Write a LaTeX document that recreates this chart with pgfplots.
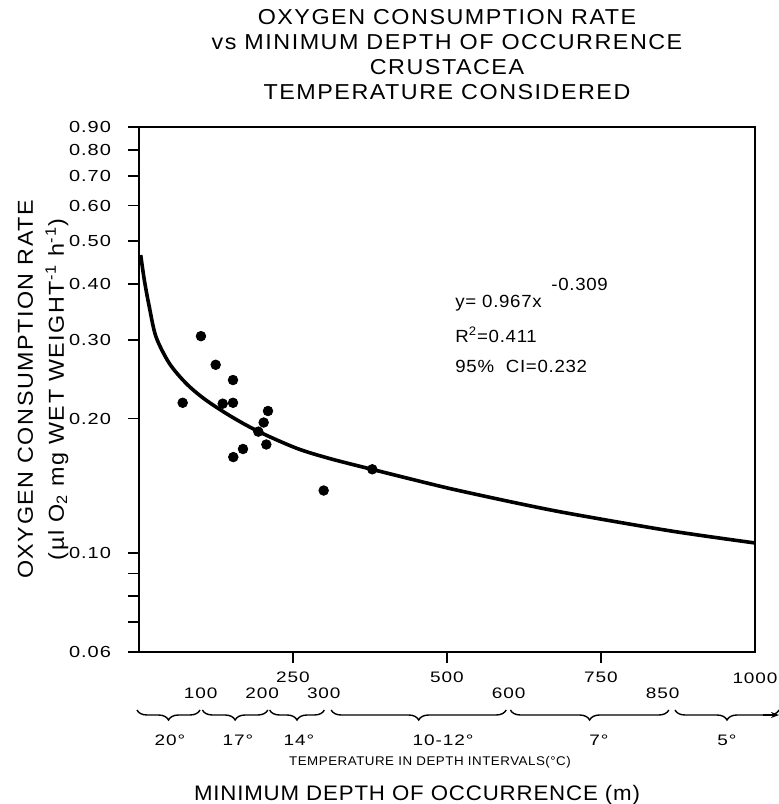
\documentclass[border=0pt]{standalone}
\usepackage{fontspec}
\setmainfont{Liberation Sans}
\newfontfamily\wf[FakeStretch=1.06,LetterSpace=4]{Liberation Sans}
\newfontfamily\hf[FakeStretch=1.08,LetterSpace=7]{Liberation Sans}
\newfontfamily\tf[FakeStretch=1.25,LetterSpace=6]{Liberation Sans}
\usepackage{pgfplots}
\pgfplotsset{compat=1.18}
\usetikzlibrary{decorations.pathreplacing,arrows.meta}

\newcommand\tickfont{\tf\fontsize{7.6}{9}\selectfont}
\newcommand\bigfont{\wf\fontsize{10.5}{12.5}\selectfont}
\newcommand\headfont{\hf\fontsize{10.8}{12.5}\selectfont}

\begin{document}
\begin{tikzpicture}
\path[use as bounding box] (-69.5pt,-76pt) rectangle (320pt,326pt);
\begin{axis}[
    at={(0pt,0pt)}, anchor=south west,
    scale only axis, width=308pt, height=262.5pt,
    xmin=0, xmax=1000,
    ymode=log, ymin=0.06, ymax=0.9,
    axis line style={line width=1pt},
    tick style={line width=0.8pt, black},
    tick align=outside,
    major tick length=5.5pt, minor tick length=5.5pt,
    xtick pos=bottom, ytick pos=left,
    xtick={250,500,750},
    xticklabels={250,500,750},
    extra x ticks={100,200,300,600,850},
    extra x tick labels={100,200,300,600,850},
    extra x tick style={major tick length=0pt, xticklabel style={yshift=-13pt}},
    ytick={0.06,0.1,0.2,0.3,0.4,0.5,0.6,0.7,0.8,0.9},
    yticklabels={0.06,0.10,0.20,0.30,0.40,0.50,0.60,0.70,0.80,0.90},
    minor ytick={0.07,0.08,0.09},
    tick label style={font=\tickfont},
    xticklabel style={anchor=base, yshift=-10pt},
    yticklabel style={anchor=east, xshift=-5pt, font=\tf\fontsize{8}{9}\selectfont},
]
% fitted power curve
\addplot[black, line width=1.8pt, smooth, tension=0.5] coordinates {
    (2.8,0.465) (8.6,0.409) (16.7,0.356) (27.6,0.305) (49.2,0.266)
    (76.3,0.240) (106,0.2214) (147.7,0.2029) (193.7,0.1872) (256,0.1716)
    (310.1,0.1627) (378.7,0.1539) (472.4,0.1429) (521.1,0.1378) (618.5,0.1289)
    (699.7,0.1225) (862,0.1121) (1000,0.1053)
};
% measured species
\addplot[only marks, mark=*, mark size=2.4pt, black] coordinates {
    (70.9,0.217) (100.6,0.306) (124.5,0.264) (152.6,0.244) (135.9,0.216)
    (152.6,0.217) (209.4,0.208) (202.4,0.196) (193.7,0.187) (206.7,0.175)
    (168.8,0.171) (153.1,0.164) (378.7,0.154) (299.8,0.138)
};
\end{axis}

% title
\begin{scope}[every node/.style={font=\headfont, anchor=base}]
\node at (154pt,313.5pt) {OXYGEN CONSUMPTION RATE};
\node at (154pt,301pt) {vs MINIMUM DEPTH OF OCCURRENCE};
\node at (154pt,288.5pt) {CRUSTACEA};
\node at (154pt,276pt) {TEMPERATURE CONSIDERED};
\end{scope}

% y label
\node[font=\headfont, align=center, rotate=90] at (-48pt,131.25pt)
    {OXYGEN CONSUMPTION RATE\\[3pt](µl O\textsubscript{2} mg WET WEIGHT\textsuperscript{-1} h\textsuperscript{-1})};

% regression text
\begin{scope}[every node/.style={font=\wf\fontsize{8.8}{10}\selectfont, anchor=base west, inner sep=0pt}]
\node at (158pt,172pt) {y= 0.967x};
\node at (206pt,180.5pt) {-0.309};
\node at (158pt,154.5pt) {R\textsuperscript{2}=0.411};
\node at (158pt,139.5pt) {95\%\ \ CI=0.232};
\end{scope}

\node[font=\tickfont, anchor=base] at (308pt,-15.5pt) {1000};

% temperature intervals
\begin{scope}[line width=0.7pt, decoration={brace, mirror, amplitude=5pt}]
\draw[decorate] (-1pt,-29pt) -- (30.5pt,-29pt);
\draw[decorate] (31.7pt,-29pt) -- (64.4pt,-29pt);
\draw[decorate] (65.3pt,-29pt) -- (92.7pt,-29pt);
\draw[decorate] (96.1pt,-29pt) -- (183.6pt,-29pt);
\draw[decorate] (185.7pt,-29pt) -- (264.9pt,-29pt);
\draw[decorate] (268pt,-29pt) -- (320pt,-29pt);
\draw[-{Stealth[length=4pt,width=3pt]}] (312pt,-31.5pt) -- (320pt,-31.5pt);
\end{scope}
\begin{scope}[every node/.style={font=\tickfont, anchor=base}]
\node at (15.5pt,-46.5pt) {20°};
\node at (49.5pt,-46.5pt) {17°};
\node at (80pt,-46.5pt) {14°};
\node at (152pt,-46.5pt) {10-12°};
\node at (230pt,-46.5pt) {7°};
\node at (294pt,-46.5pt) {5°};
\end{scope}
\node[font=\wf\fontsize{6.3}{7}\selectfont, anchor=base] at (145.5pt,-56.5pt)
    {TEMPERATURE IN DEPTH INTERVALS(°C)};
\node[font=\bigfont, anchor=base] at (139pt,-74pt)
    {MINIMUM DEPTH OF OCCURRENCE (m)};
\end{tikzpicture}
\end{document}
